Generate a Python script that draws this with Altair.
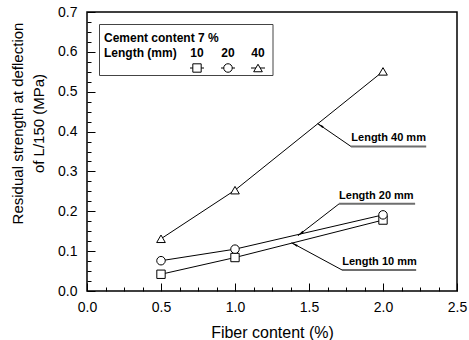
import math
import altair as alt
import pandas as pd

# ---------------- data ----------------
fiber = [0.5, 1.0, 2.0]
series = ["10", "20", "40"]
s10 = [0.042, 0.084, 0.178]
s20 = [0.076, 0.105, 0.191]
s40 = [0.131, 0.253, 0.551]

x_major = [0.0, 0.5, 1.0, 1.5, 2.0, 2.5]
x_minor = [0.125, 0.25, 0.375, 0.625, 0.75, 0.875, 1.125, 1.25, 1.375,
           1.625, 1.75, 1.875, 2.125, 2.25, 2.375]
y_major = [0.0, 0.1, 0.2, 0.3, 0.4, 0.5, 0.6, 0.7]
y_minor = [0.025, 0.05, 0.075, 0.125, 0.15, 0.175, 0.225, 0.25, 0.275,
           0.325, 0.35, 0.375, 0.425, 0.45, 0.475, 0.525, 0.55, 0.575,
           0.625, 0.65, 0.675]

ann_labels = ["Length 40 mm", "Length 20 mm", "Length 10 mm"]
ann_tip_x = [1.559, 1.426, 1.383]
ann_tip_y = [0.420, 0.139, 0.121]
ann_line_x1 = [1.784, 1.703, 1.723]
ann_line_x2 = [2.292, 2.217, 2.224]
ann_line_y = [0.3626, 0.2186, 0.0528]
ann_text_x = [2.038, 1.955, 1.976]
ann_text_y = [0.383, 0.239, 0.0716]

legend_title1 = "Cement content 7 %"
legend_title2 = "Length (mm)"

FONT = "Liberation Sans"
W, H = 370, 279
XD, YD = [0, 2.5], [0, 0.7]
PX = W / (XD[1] - XD[0])
PY = H / (YD[1] - YD[0])
TL = 8  # inward tick length (px)

rows = []
for name, vals in zip(series, [s10, s20, s40]):
    for f, v in zip(fiber, vals):
        rows.append({"fiber": f, "val": v, "len": name})
df = pd.DataFrame(rows)

x_minor_test = "abs(datum.value*2 - round(datum.value*2)) > 0.01"
y_minor_test = "abs(datum.value*10 - round(datum.value*10)) > 0.01"


def X(field):
    return alt.X(f"{field}:Q", scale=alt.Scale(domain=XD, nice=False, zero=False),
                 axis=alt.Axis(values=sorted(x_major + x_minor), offset=-TL,
                               ticks=True, tickSize=TL, tickColor="black", tickWidth=1,
                               tickDash={"condition": {"test": x_minor_test, "value": [0, 4, 4]},
                                         "value": [TL, 0]},
                               labelExpr=f"{x_minor_test} ? '' : format(datum.value, '.1f')",
                               labelOverlap=False,
                               domain=False, grid=False, labelFont=FONT,
                               labelFontSize=14, labelColor="black", labelPadding=9,
                               labelFlush=False,
                               title="Fiber content (%)", titleFont=FONT,
                               titleFontSize=16, titleFontWeight="normal",
                               titleColor="black", titleBaseline="middle", titleY=41 + TL))


def Y(field):
    return alt.Y(f"{field}:Q", scale=alt.Scale(domain=YD, nice=False, zero=False),
                 axis=alt.Axis(values=sorted(y_major + y_minor), offset=-TL,
                               ticks=True, tickSize=TL, tickColor="black", tickWidth=1,
                               tickDash={"condition": {"test": y_minor_test, "value": [0, 4, 4]},
                                         "value": [TL, 0]},
                               labelExpr=f"{y_minor_test} ? '' : format(datum.value, '.1f')",
                               labelOverlap=False,
                               domain=False, grid=False, labelFont=FONT,
                               labelFontSize=14, labelColor="black", labelPadding=10,
                               labelFlush=False,
                               title=["Residual strength at deflection", "of L/150 (MPa)"],
                               titleFont=FONT, titleFontSize=15,
                               titleFontWeight="normal", titleColor="black",
                               titleBaseline="middle", titleX=-69.5 - TL, titleY=111,
                               titleLineHeight=20.5))


shape_scale = alt.Scale(domain=series, range=["square", "circle", "triangle-up"])
size_scale = alt.Scale(domain=series, range=[70, 75, 95])

base = alt.Chart(df)
lines = base.mark_line(color="black", strokeWidth=1).encode(
    x=X("fiber"), y=Y("val"), detail="len:N")
points = base.mark_point(filled=True, fill="white", stroke="black", strokeWidth=1,
                         opacity=1).encode(
    x=X("fiber"), y=Y("val"),
    shape=alt.Shape("len:N", scale=shape_scale, legend=None),
    size=alt.Size("len:N", scale=size_scale, legend=None))

# annotations
arows = []
for i in range(3):
    tx, ty = ann_tip_x[i], ann_tip_y[i]
    ax, ay = ann_line_x1[i], ann_line_y[i]
    dxp = (tx - ax) * PX
    dyp = -(ty - ay) * PY
    L = math.hypot(dxp, dyp)
    ux, uy = dxp / L, dyp / L
    ang = math.degrees(math.atan2(ux, -uy)) % 360
    back = 4
    arows.append({
        "label": ann_labels[i], "tx": tx, "ty": ty, "ax": ax, "ay": ay,
        "x2": ann_line_x2[i], "lx": ann_text_x[i], "ly": ann_text_y[i],
        "hx": tx - back * ux / PX, "hy": ty + back * uy / PY, "ang": ang})
adf = pd.DataFrame(arows)
abase = alt.Chart(adf)
leaders = abase.mark_rule(color="black", strokeWidth=1).encode(
    x=X("ax"), y=Y("ay"), x2="tx:Q", y2="ty:Q")
underl = abase.mark_rule(color="#6e6e6e", strokeWidth=2).encode(
    x=X("ax"), x2="x2:Q", y=Y("ay"), y2="ay:Q")
heads = abase.mark_point(shape="wedge", filled=True, color="black", size=70, opacity=1).encode(
    x=X("hx"), y=Y("hy"), angle=alt.Angle("ang:Q", scale=None))
alabels = abase.mark_text(font=FONT, fontSize=11, fontWeight="bold", baseline="middle",
                          color="black").encode(x=X("lx"), y=Y("ly"), text="label:N")

# legend (custom)
one = alt.Chart(pd.DataFrame({"a": [0]}))
lbox = one.mark_rect(fill="white", stroke="#444444", strokeWidth=1).encode(
    x=alt.value(12.5), x2=alt.value(186), y=alt.value(12.5), y2=alt.value(63.5))
lt1 = one.mark_text(font=FONT, fontSize=12, fontWeight="bold", align="left",
                    baseline="middle", color="black").encode(
    x=alt.value(17), y=alt.value(26), text=alt.value(legend_title1))
lt2 = one.mark_text(font=FONT, fontSize=12, fontWeight="bold", align="left",
                    baseline="middle", color="black").encode(
    x=alt.value(17), y=alt.value(41), text=alt.value(legend_title2))
ldf = pd.DataFrame({"len": series, "px": [110, 141, 171]})
ldf["pa"] = ldf["px"] - 7
ldf["pb"] = ldf["px"] + 7
lbase = alt.Chart(ldf)
lnum = lbase.mark_text(font=FONT, fontSize=12, fontWeight="bold", baseline="middle",
                       color="black").encode(
    x=alt.X("px:Q", scale=None, axis=None), y=alt.value(41), text="len:N")
lseg = lbase.mark_rule(color="black", strokeWidth=1).encode(
    x=alt.X("pa:Q", scale=None, axis=None), x2="pb:Q", y=alt.value(56))
lpts = lbase.mark_point(filled=True, fill="white", stroke="black", strokeWidth=1,
                        opacity=1).encode(
    x=alt.X("px:Q", scale=None, axis=None), y=alt.value(56),
    shape=alt.Shape("len:N", scale=shape_scale, legend=None),
    size=alt.Size("len:N", scale=size_scale, legend=None))

chart = alt.layer(
    lines, leaders, underl, heads, alabels, points,
    lbox, lt1, lt2, lnum, lseg, lpts
).properties(
    width=W, height=H,
    padding={"left": 87, "top": 12, "right": 12, "bottom": 49},
    autosize=alt.AutoSizeParams(type="none"),
    background="white",
).configure_view(stroke="black", strokeWidth=1.5)

chart.save("out.html", embed_options={"renderer": "svg", "actions": False})
